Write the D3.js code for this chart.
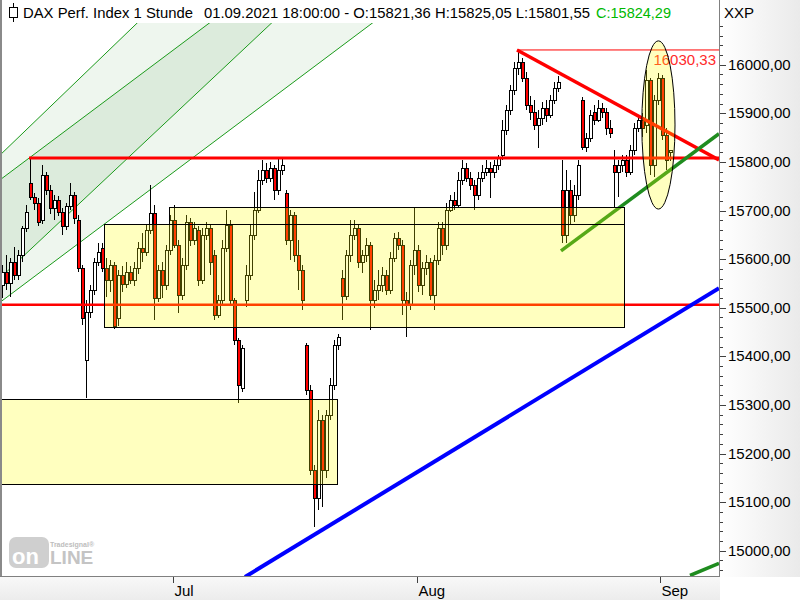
<!DOCTYPE html>
<html><head><meta charset="utf-8">
<script src="https://cdn.jsdelivr.net/npm/d3@7"></script>
<style>body{margin:0;background:#fff}svg{display:block;font-family:"Liberation Sans",Arial,sans-serif}</style>
</head><body><svg id="c" width="800" height="600"></svg>
<script>
// ---- data (hourly candles) ----
const opens=[
15547,15573,15551,15594,15567,15608,15664,15756,15728,15715,
15680,15773,15742,15705,15721,15697,15668,15709,15732,15680,
15581,15392,15491,15536,15594,15623,15581,15557,15588,15479,
15567,15549,15573,15557,15581,15623,15614,15660,15695,15520,
15577,15547,15618,15680,15629,15526,15588,15676,15639,15660,
15557,15649,15664,15608,15485,15516,15623,15670,15516,15433,
15335,15516,15567,15649,15701,15763,15783,15767,15787,15742,
15783,15736,15639,15691,15608,15577,15423,15330,15166,15108,
15269,15166,15279,15341,15423,15561,15524,15608,15649,15664,
15594,15608,15629,15516,15536,15547,15567,15536,15602,15643,
15629,15516,15506,15588,15618,15547,15581,15594,15526,15598,
15664,15629,15701,15721,15711,15763,15787,15767,15752,15732,
15767,15779,15787,15779,15793,15814,15865,15907,15948,15993,
16005,15972,15917,15902,15876,15890,15911,15896,15927,15952,
15742,15649,15742,15691,15732,15927,15830,15849,15902,15886,
15911,15902,15870,15793,15779,15793,15804,15779,15824,15870,
15886,15876,15968,15793,15927,15972,15855,15821.36];
const highs=[
15588,15608,15602,15625,15618,15668,15711,15808,15736,15726,
15793,15779,15752,15732,15730,15705,15715,15756,15738,15691,
15588,15516,15547,15602,15633,15633,15602,15598,15594,15577,
15586,15594,15586,15594,15635,15654,15670,15752,15711,15588,
15594,15629,15691,15711,15639,15602,15691,15684,15676,15668,
15664,15676,15670,15618,15526,15639,15701,15680,15520,15437,
15423,15588,15670,15738,15783,15804,15798,15800,15793,15808,
15810,15742,15701,15697,15639,15588,15427,15341,15176,15289,
15279,15289,15355,15433,15446,15577,15618,15680,15680,15672,
15618,15643,15635,15557,15577,15584,15577,15614,15654,15656,
15639,15532,15598,15707,15629,15594,15608,15602,15608,15676,
15676,15715,15732,15738,15779,15804,15798,15779,15763,15779,
15793,15804,15800,15804,15814,15886,15917,15958,16005,16030.33,
16014,15985,15935,15927,15907,15923,15927,15938,15964,15977,
15804,15783,15763,15752,15804,15933,15859,15907,15917,15927,
15921,15911,15886,15824,15804,15814,15814,15835,15880,15896,
15900,15989,15972,15938,15983,15979,15870,15825.05];
const lows=[
15520,15536,15522,15557,15557,15594,15656,15721,15701,15668,
15672,15732,15693,15680,15688,15649,15660,15701,15672,15573,
15464,15314,15479,15526,15586,15573,15522,15532,15456,15462,
15532,15540,15549,15544,15569,15594,15606,15651,15475,15512,
15520,15536,15608,15623,15489,15516,15577,15627,15629,15544,
15549,15639,15567,15475,15479,15506,15614,15503,15423,15304,
15326,15501,15557,15639,15695,15752,15756,15758,15721,15732,
15773,15629,15598,15594,15536,15495,15320,15156,15048,15083,
15090,15149,15269,15330,15413,15475,15516,15594,15639,15581,
15571,15594,15454,15499,15516,15532,15526,15528,15594,15618,
15485,15439,15495,15567,15532,15526,15567,15516,15495,15588,
15608,15618,15697,15701,15705,15752,15758,15742,15701,15721,
15758,15771,15726,15767,15783,15804,15855,15896,15938,15979,
15964,15907,15886,15865,15828,15876,15882,15890,15919,15944,
15633,15633,15670,15676,15721,15824,15820,15841,15876,15882,
15890,15855,15849,15707,15728,15779,15769,15773,15814,15861,
15851,15859,15773,15769,15917,15845,15783,15801.55];
const closes=[
15573,15551,15594,15567,15608,15664,15697,15728,15715,15676,
15773,15742,15705,15721,15697,15668,15709,15732,15684,15581,
15479,15491,15536,15594,15614,15581,15557,15588,15462,15567,
15549,15573,15557,15581,15623,15614,15660,15695,15520,15577,
15547,15618,15680,15629,15526,15588,15676,15639,15664,15557,
15649,15664,15594,15485,15516,15623,15670,15516,15433,15341,
15417,15567,15649,15701,15763,15783,15767,15787,15742,15783,
15793,15639,15691,15608,15577,15516,15330,15166,15108,15269,
15166,15279,15341,15423,15439,15524,15608,15649,15664,15594,
15608,15629,15516,15536,15547,15567,15536,15602,15643,15629,
15516,15506,15588,15618,15547,15581,15594,15526,15598,15664,
15629,15701,15721,15711,15763,15787,15767,15752,15732,15767,
15779,15787,15779,15793,15808,15865,15907,15948,15993,16005,
15972,15917,15902,15876,15890,15911,15896,15927,15952,15964,
15649,15742,15691,15732,15793,15830,15849,15896,15886,15911,
15902,15870,15859,15779,15793,15804,15779,15824,15870,15886,
15870,15968,15793,15927,15972,15855,15804,15824.29];

const monthTickIdx=[42.6,103.5,164.25];
const monthLabels=["Jul","Aug","Sep"];
const priceTicks=[15000,15100,15200,15300,15400,15500,15600,15700,15800,15900,16000];

// drawings (x = candle index, y = price)
const fanLines=[
 [[-0.75,15814],[39.5,16133]],
 [[-0.75,15763],[59.25,16133]],
 [[-0.75,15561],[73.25,16133]],
 [[-0.75,15511],[100,16133]]];
const redLevelHigh=[[6.5,15808],[179,15808]];
const redLevelLow=[[-1,15506],[179,15506]];
const topLine=[[128.5,16030.33],[179,16030.33]];
const redDown=[[128.5,16030.33],[179,15804]];
const greenUp=[[139.5,15617],[179,15858]];
const blueUp=[[60.5,14946],[179,15540]];
const greenLow=[[171.75,14949],[179,14974]];
const boxes=[[25.25,155.25,15672,15460],[41.5,155.25,15707,15672],[-1,83.4,15312,15137]];
const ellipseX=[159.7,168], ellipseY=[16049,15703];

// ---- chart ----
const svg=d3.select("#c");
const x=d3.scaleLinear().domain([0,167]).range([3,671]);
const y=d3.scaleLinear().domain([15000,16000]).range([550.7,64.7]);
const defs=svg.append("defs");
defs.append("clipPath").attr("id","clip").append("rect").attr("x",0).attr("y",0).attr("width",719).attr("height",576);
const ga=defs.append("linearGradient").attr("id","axbg").attr("x1",0).attr("x2",1).attr("y1",0).attr("y2",0);
ga.append("stop").attr("offset","0%").attr("stop-color","#ffffff");
ga.append("stop").attr("offset","100%").attr("stop-color","#eaeaea");
const gb=defs.append("linearGradient").attr("id","bbg").attr("x1",0).attr("x2",0).attr("y1",0).attr("y2",1);
gb.append("stop").attr("offset","0%").attr("stop-color","#f8f8f8");
gb.append("stop").attr("offset","100%").attr("stop-color","#ececec");

svg.append("rect").attr("width",800).attr("height",600).attr("fill","#fff");
svg.append("rect").attr("x",720).attr("y",0).attr("width",80).attr("height",577).attr("fill","url(#axbg)");
svg.append("rect").attr("x",0).attr("y",577).attr("width",720).attr("height",23).attr("fill","url(#bbg)");

const plot=svg.append("g").attr("clip-path","url(#clip)");
const P=p=>[x(p[0]),y(p[1])];
function lineAt(l,px){const a=P(l[0]),b=P(l[1]);return a[1]+(b[1]-a[1])*(px-a[0])/(b[0]-a[0]);}
[[0,1,"#eef6ee"],[1,2,"#dcebdc"],[2,3,"#eef6ee"]].forEach(([a,b,c])=>{
  const A=fanLines[a],B=fanLines[b];
  plot.append("polygon").attr("fill",c).attr("points",
   [[-5,lineAt(A,-5)],[800,lineAt(A,800)],[800,lineAt(B,800)],[-5,lineAt(B,-5)]].map(p=>p.join(",")).join(" "));
});
fanLines.forEach(l=>{
  plot.append("line").attr("x1",-5).attr("y1",lineAt(l,-5)).attr("x2",800).attr("y2",lineAt(l,800))
   .attr("stroke","#1a9a1a").attr("stroke-width",1);
});

// candles
const cg=plot.append("g");
d3.range(closes.length).forEach(i=>{
  const cx=Math.round(x(i)), up=closes[i]>=opens[i];
  cg.append("line").attr("x1",cx-0.5).attr("x2",cx-0.5)
    .attr("y1",Math.round(y(highs[i]))).attr("y2",Math.round(y(lows[i])))
    .attr("stroke","#000").attr("stroke-width",1);
  const t=Math.round(Math.min(y(opens[i]),y(closes[i]))), b=Math.round(Math.max(y(opens[i]),y(closes[i])));
  cg.append("rect").attr("x",cx-1.5).attr("y",t+0.5).attr("width",3).attr("height",Math.max(1,b-t))
    .attr("fill",up?"#ffffff":"#ff0000").attr("stroke","#000").attr("stroke-width",1);
});

// trend lines
function seg(l,color,w){const a=P(l[0]),b=P(l[1]);
  plot.append("line").attr("x1",a[0]).attr("y1",a[1]).attr("x2",b[0]).attr("y2",b[1])
   .attr("stroke",color).attr("stroke-width",w);}
seg(topLine,"#ff0000",1);
seg(redLevelHigh,"#ff0000",3);
seg(redLevelLow,"#ff0000",2.5);
seg(redDown,"#ff0000",3.5);
seg(greenUp,"#1f8c1f",3.5);
seg(blueUp,"#0000ff",4);
seg(greenLow,"#1f8c1f",3.5);
plot.append("text").attr("x",716).attr("y",65).attr("text-anchor","end").attr("font-size",15)
  .attr("fill","#ff2a2a").text("16030,33");

// translucent yellow zones
boxes.forEach(b=>{
  const x0=x(b[0]),x1=x(b[1]),y0=y(b[2]),y1=y(b[3]);
  plot.append("rect").attr("x",Math.round(x0)+0.5).attr("y",Math.round(y0)+0.5)
    .attr("width",Math.round(x1-x0)).attr("height",Math.round(y1-y0))
    .attr("fill","rgba(255,255,0,0.25)").attr("stroke","#000").attr("stroke-width",1);
});
plot.append("ellipse").attr("cx",(x(ellipseX[0])+x(ellipseX[1]))/2).attr("cy",(y(ellipseY[0])+y(ellipseY[1]))/2)
  .attr("rx",(x(ellipseX[1])-x(ellipseX[0]))/2).attr("ry",(y(ellipseY[1])-y(ellipseY[0]))/2)
  .attr("fill","rgba(255,255,0,0.25)").attr("stroke","#000").attr("stroke-width",1);

// header band
svg.append("rect").attr("x",0).attr("y",0).attr("width",719).attr("height",23).attr("fill","#fff");
svg.append("line").attr("x1",13.5).attr("x2",13.5).attr("y1",3).attr("y2",22).attr("stroke","#000");
svg.append("rect").attr("x",9.5).attr("y",7.5).attr("width",8).attr("height",10).attr("fill","#fff").attr("stroke","#000");
const hdr=svg.append("g").attr("font-size",15).attr("fill","#000");
hdr.append("text").attr("x",23).attr("y",18).attr("textLength",170).attr("lengthAdjust","spacingAndGlyphs").text("DAX Perf. Index 1 Stunde");
hdr.append("text").attr("x",204).attr("y",18).attr("textLength",386).attr("lengthAdjust","spacingAndGlyphs").text("01.09.2021 18:00:00 - O:15821,36 H:15825,05 L:15801,55");
hdr.append("text").attr("x",596).attr("y",18).attr("textLength",75).attr("lengthAdjust","spacingAndGlyphs").attr("fill","#00b800").text("C:15824,29");
svg.append("text").attr("x",724).attr("y",18).attr("font-size",15).text("XXP");

// borders
svg.append("line").attr("x1",1).attr("x2",1).attr("y1",0).attr("y2",577).attr("stroke","#8a8a8a").attr("stroke-width",2);
svg.append("line").attr("x1",0).attr("x2",720).attr("y1",576.5).attr("y2",576.5).attr("stroke","#808080");
svg.append("line").attr("x1",719.5).attr("x2",719.5).attr("y1",0).attr("y2",577).attr("stroke","#808080");

// right price axis
const ax=svg.append("g");
d3.range(14940,16161,20).forEach(v=>{
  const yy=Math.round(y(v))+0.5; if(yy<24||yy>575) return;
  const major=v%100===0;
  ax.append("line").attr("x1",720).attr("x2",major?726:723).attr("y1",yy).attr("y2",yy).attr("stroke","#404040");
});
priceTicks.forEach(v=>{
  ax.append("text").attr("x",728).attr("y",y(v)+5).attr("font-size",15).attr("fill","#000")
    .text(v.toFixed(2).replace(".",","));
});

// bottom time axis
monthTickIdx.forEach((t,k)=>{
  const xx=Math.round(x(t))+0.5;
  svg.append("line").attr("x1",xx).attr("x2",xx).attr("y1",577).attr("y2",583).attr("stroke","#404040");
  svg.append("text").attr("x",xx+1).attr("y",596).attr("font-size",15).text(monthLabels[k]);
});

// watermark
const wm=svg.append("g");
wm.append("rect").attr("x",9).attr("y",537).attr("width",40).attr("height",31).attr("rx",7).attr("fill","#cfcfcf");
wm.append("text").attr("x",12).attr("y",564).attr("font-size",22).attr("font-weight","bold").attr("fill","#fff").text("on");
wm.append("text").attr("x",50).attr("y",564).attr("font-size",19).attr("font-weight","bold").attr("fill","#c4c4c4").text("LINE");
wm.append("text").attr("x",50).attr("y",547).attr("font-size",7).attr("font-weight","bold").attr("fill","#bdbdbd").text("Tradesignal®");
</script></body></html>
